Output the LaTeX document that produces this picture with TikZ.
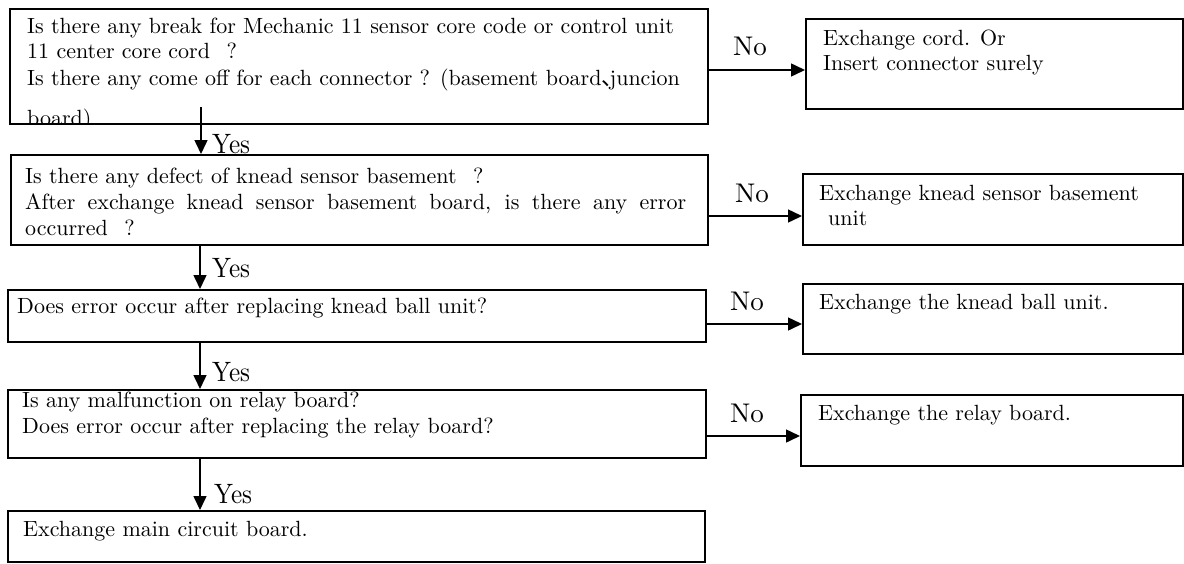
\documentclass[tikz,border=0pt]{standalone}
\usepackage{fontspec}
\usepackage{graphicx}
\setmainfont{lmroman10-regular.otf}
\newfontfamily\cjk{Noto Sans CJK JP}
\usetikzlibrary{arrows.meta}
\newcommand{\fq}{\hspace{0.75em}?}
\begin{document}
\begin{tikzpicture}[x=1pt,y=-1pt,
  box/.style={draw, line width=1.5pt, inner sep=0pt, anchor=north west},
  txt/.style={anchor=base west, inner sep=0pt, font=\fontsize{22}{25}\selectfont},
  lbl/.style={anchor=base, inner sep=0pt, font=\fontsize{27}{27}\selectfont},
  yes/.style={anchor=base west, inner sep=0pt, font=\fontsize{28}{28}\selectfont},
  arr/.style={line width=1.5pt, -{Triangle[length=14pt,width=13pt]}}]
\useasboundingbox (0,0) rectangle (1184,563);

% left boxes
\node[box, minimum width=698pt, minimum height=115pt] (b1) at (9,8) {};
\node[box, minimum width=697pt, minimum height=90pt] (b2) at (10,154) {};
\node[box, minimum width=698pt, minimum height=52pt] (b3) at (7,289) {};
\node[box, minimum width=698pt, minimum height=68pt] (b4) at (7,389) {};
\node[box, minimum width=697pt, minimum height=51pt] (b5) at (7,510) {};
% right boxes
\node[box, minimum width=377pt, minimum height=90pt] (r1) at (805,18) {};
\node[box, minimum width=380pt, minimum height=71pt] (r2) at (802,173) {};
\node[box, minimum width=380pt, minimum height=70pt] (r3) at (802,283) {};
\node[box, minimum width=382pt, minimum height=71pt] (r4) at (800,394) {};

% texts of box 1 (last line clipped by the box)
\begin{scope}
\clip (b1.north west) rectangle (b1.south east);
\node[txt] (t1a) at (27,33) {Is there any break for Mechanic 11 sensor core code or control unit};
\node[txt] (t1b) at (27,58) {11 center core cord\fq};
\node[txt] (t1c) at (27,85) {Is there any come off for each connector ?\hspace{0.45em}(basement board\makebox[8pt][l]{\cjk 、}juncion};
\node[txt] (t1d) at (27,125) {board)};
\end{scope}

\node[txt] (t2a) at (25,183) {Is there any defect of knead sensor basement\fq};
\node[txt] (t2b) at (25,209) {\makebox[661pt][s]{After exchange knead sensor basement board, is there any error}};
\node[txt] (t2c) at (25,235) {occurred\fq};
\node[txt] (t3a) at (17,313) {Does error occur after replacing knead ball unit?};
\node[txt] (t4a) at (22,407) {Is any malfunction on relay board?};
\node[txt] (t4b) at (22,433) {Does error occur after replacing the relay board?};
\node[txt] (t5a) at (23,536) {Exchange main circuit board.};

\node[txt] (s1a) at (823,45) {Exchange cord. Or};
\node[txt] (s1b) at (823,70) {Insert connector surely};
\node[txt] (s2a) at (819,200) {Exchange knead sensor basement};
\node[txt] (s2b) at (828,225) {unit};
\node[txt] (s3a) at (819,309) {Exchange the knead ball unit.};
\node[txt] (s4a) at (818,420) {Exchange the relay board.};

% connectors
\coordinate (c1) at (201,107);
\coordinate (col) at (200,0);
\draw[arr] (c1) -- (c1 |- b2.north);
\draw[arr] (b2.south -| col) -- (b3.north -| col);
\draw[arr] (b3.south -| col) -- (b4.north -| col);
\draw[arr] (b4.south -| col) -- (b5.north -| col);

\coordinate (h1) at (0,70);
\coordinate (h2) at (0,216);
\coordinate (h3) at (0,324);
\coordinate (h4) at (0,436);
\draw[arr] (b1.east |- h1) -- (r1.west |- h1);
\draw[arr] (b2.east |- h2) -- (r2.west |- h2);
\draw[arr] (b3.east |- h3) -- (r3.west |- h3);
\draw[arr] (b4.east |- h4) -- (r4.west |- h4);

% labels
\node[lbl] (n1) at (750,55) {No};
\node[lbl] (n2) at (752,202) {No};
\node[lbl] (n3) at (747,310) {No};
\node[lbl] (n4) at (747,422) {No};
\node[yes] (y1) at (212,153) {\scalebox{0.9}[1]{Yes}};
\node[yes] (y2) at (212,277) {\scalebox{0.9}[1]{Yes}};
\node[yes] (y3) at (212,381) {\scalebox{0.9}[1]{Yes}};
\node[yes] (y4) at (214,503) {\scalebox{0.9}[1]{Yes}};
\end{tikzpicture}
\end{document}
